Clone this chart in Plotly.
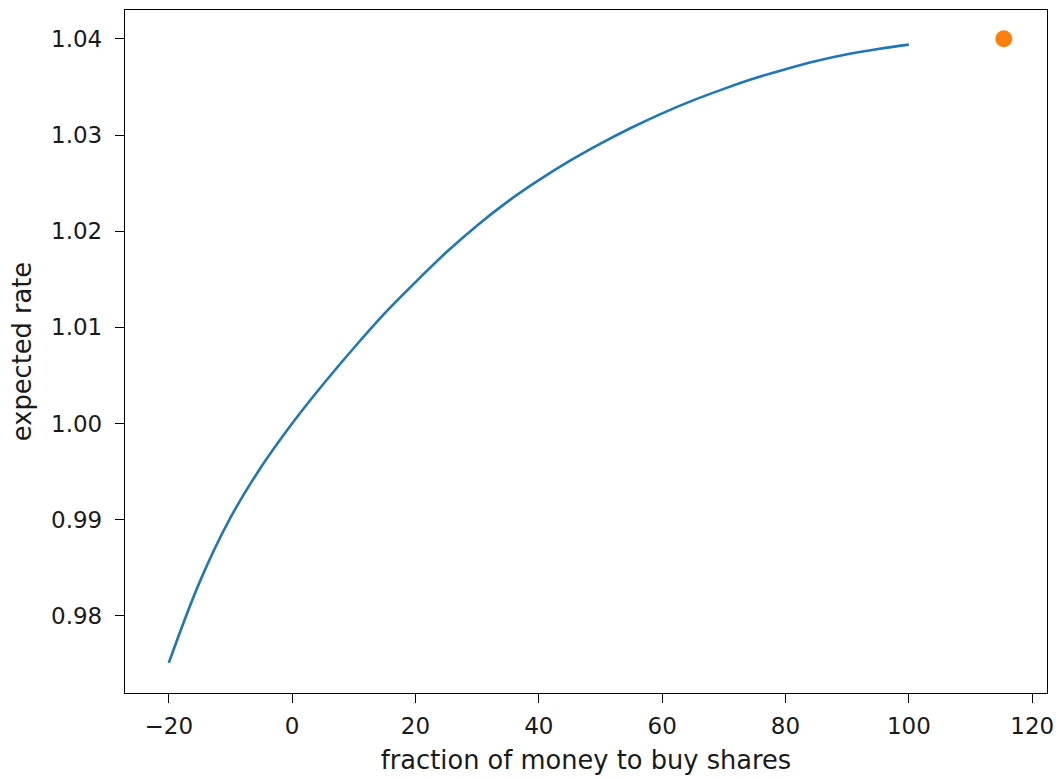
import plotly.graph_objects as go

# fraction of money to buy shares (x) and expected rate (y)
fraction = [-20, -15, -10, -5, 0, 5, 10, 15, 20, 25, 30, 35, 40, 45,
            50, 55, 60, 65, 70, 75, 80, 85, 90, 95, 100]
expected_rate = [0.9751, 0.9835, 0.9902, 0.9955, 1.0000, 1.00405, 1.00785, 1.01145, 1.0147,
                 1.0178, 1.0206, 1.0231, 1.0253, 1.0273, 1.0291, 1.03075, 1.03225, 1.0336,
                 1.0348, 1.0359, 1.03685, 1.0377, 1.0384, 1.03895, 1.0394]

best_fraction = [115.4]
best_rate = [1.0400]

x_ticks = [-20, 0, 20, 40, 60, 80, 100, 120]
y_ticks = [0.98, 0.99, 1.00, 1.01, 1.02, 1.03, 1.04]

tick_font = dict(family="DejaVu Sans", size=23, color="#1a1a1a")
title_font = dict(family="DejaVu Sans", size=25.7, color="#1a1a1a")

fig = go.Figure()
fig.add_trace(go.Scatter(x=fraction, y=expected_rate, mode="lines",
                         line=dict(color="#1f77b4", width=2.6, shape="spline", smoothing=1.0),
                         showlegend=False))
fig.add_trace(go.Scatter(x=best_fraction, y=best_rate, mode="markers",
                         marker=dict(color="#ff7f0e", size=17),
                         showlegend=False))

axis_common = dict(showline=True, linecolor="black", linewidth=1.3, mirror=True,
                   ticks="outside", ticklen=9, tickwidth=1.3, tickcolor="black",
                   showgrid=False, zeroline=False, tickfont=tick_font)

fig.update_layout(
    width=1063, height=779,
    margin=dict(l=125, r=12, t=9, b=82),
    paper_bgcolor="white", plot_bgcolor="white",
    font=tick_font,
    xaxis=dict(range=[-27.1, 122.4], tickvals=x_ticks, ticklabelstandoff=3,
               title=dict(text="fraction of money to buy shares", font=title_font, standoff=13),
               **axis_common),
    yaxis=dict(range=[0.97197, 1.04300], tickvals=y_ticks, ticklabelstandoff=8,
               ticktext=[f"{v:.2f}" for v in y_ticks],
               title=dict(text="expected rate", font=title_font, standoff=12),
               **axis_common),
)

fig.write_html("out.html")
